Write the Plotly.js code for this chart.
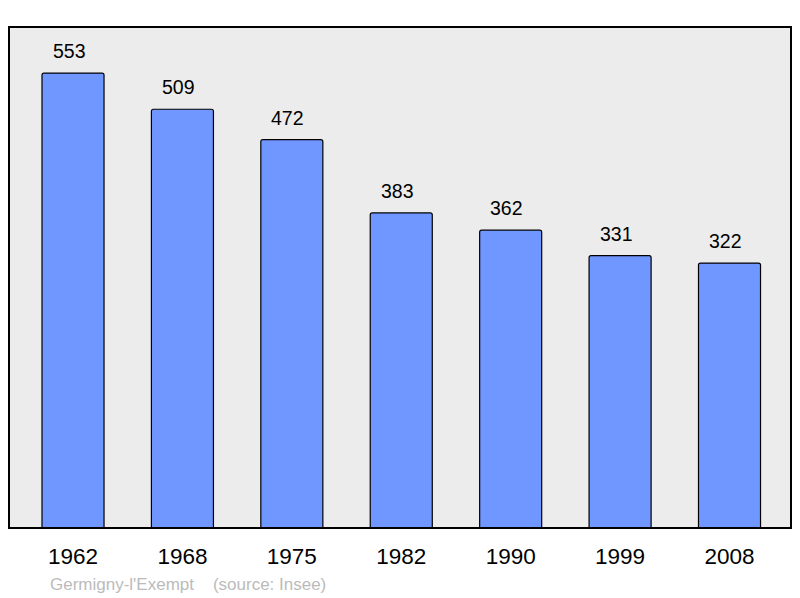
<!DOCTYPE html>
<html><head><meta charset="utf-8">
<script src="https://cdn.plot.ly/plotly-3.0.1.min.js"></script>
<style>html,body{margin:0;padding:0;background:#fff}#c{width:800px;height:598px}</style>
</head><body><div id="c"></div>
<script>
const years = ["1962","1968","1975","1982","1990","1999","2008"];
const population = [553, 509, 472, 383, 362, 331, 322];
const sourceText = "Germigny-l'Exempt &nbsp;&nbsp;&nbsp;(source: Insee)";

const xs = years.map((_, i) => i);
const trace = {
  type: 'bar', x: xs, y: population, width: 0.567,
  marker: {color: '#7096ff', line: {color: '#000', width: 1.2}},
  hoverinfo: 'skip'
};
const annotations = xs.map((x, i) => ({
  x: x, y: population[i], xref: 'x', yref: 'y', text: String(population[i]),
  showarrow: false, yanchor: 'bottom', yshift: 9, xshift: -4,
  font: {family: 'Liberation Sans, Arial, sans-serif', size: 19.5, color: '#000'}
}));
annotations.push({
  xref: 'paper', yref: 'paper', x: 0.05, y: -0.112, xanchor: 'left', yanchor: 'middle',
  text: sourceText, showarrow: false,
  font: {family: 'Liberation Sans, Arial, sans-serif', size: 17, color: '#bbbbbb'}
});
const layout = {
  width: 800, height: 598,
  margin: {l: 9, r: 9, t: 27, b: 70},
  paper_bgcolor: '#fff', plot_bgcolor: '#ececec',
  barcornerradius: 2,
  showlegend: false,
  xaxis: {range: [-0.585, 6.562], tickvals: xs, ticktext: years, showgrid: false, zeroline: false,
          ticks: 'outside', ticklen: 8, tickcolor: 'rgba(0,0,0,0)',
          tickfont: {family: 'Liberation Sans, Arial, sans-serif', size: 22.5, color: '#000'}},
  yaxis: {range: [0, 609], showgrid: false, zeroline: false, showticklabels: false, ticks: ''},
  shapes: [{type: 'rect', xref: 'paper', yref: 'paper', x0: 0, x1: 1, y0: 0, y1: 1,
            line: {color: '#000', width: 2}, fillcolor: 'rgba(0,0,0,0)'}],
  annotations: annotations
};
Plotly.newPlot('c', [trace], layout, {displayModeBar: false, staticPlot: true});
</script></body></html>
